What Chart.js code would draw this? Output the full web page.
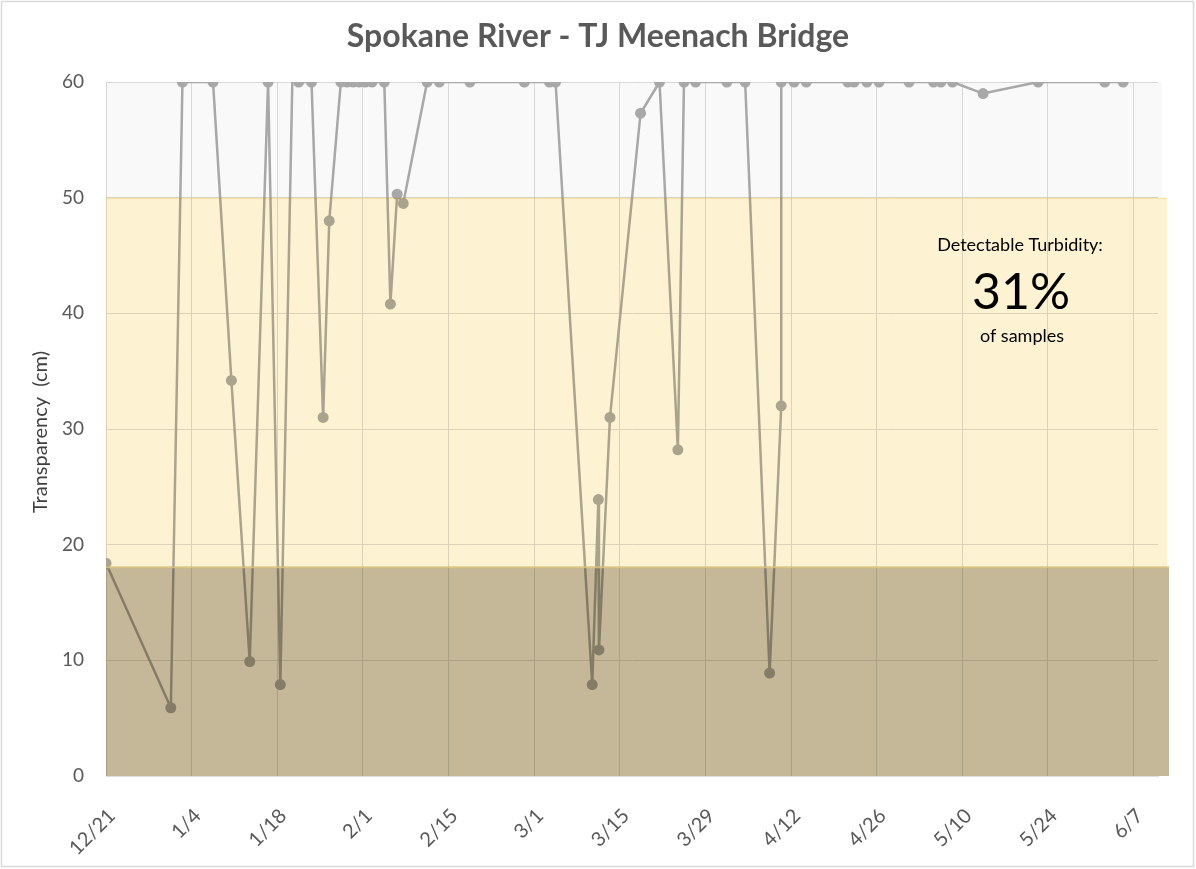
<!DOCTYPE html>
<html>
<head>
<meta charset="utf-8">
<script src="https://cdn.jsdelivr.net/npm/chart.js@4"></script>
<style>
  html, body { margin: 0; padding: 0; background: #fff; }
  canvas { display: block; }
</style>
</head>
<body>
<canvas id="turbChart" width="1196" height="869"></canvas>
<script>
// tick labels, one every 14 days starting 12/21
const tickLabels = ['12/21', '1/4', '1/18', '2/1', '2/15', '3/1', '3/15', '3/29', '4/12', '4/26', '5/10', '5/24', '6/7'];

// sample dates as days after 12/21, and transparency tube readings (cm)
const sampleDays = [0, 10.6, 12.5, 17.5, 20.5, 23.5, 26.5, 28.5, 30.5, 31.5, 33.6,
    35.5, 36.5, 38.4, 39.4, 40.4, 41.4, 42.4, 43.5, 45.5, 46.5, 47.6, 48.6,
    52.5, 54.5, 59.5, 68.4, 72.5, 73.5, 79.5, 80.5, 80.6, 82.4, 87.4, 90.5,
    93.5, 94.5, 96.4, 101.5, 104.5, 108.5, 110.4, 110.4, 112.5, 114.5, 121.3,
    122.3, 124.4, 126.4, 131.3, 135.3, 136.5, 138.4, 143.4, 152.4, 163.3, 166.3];
const transparency = [18.4, 5.9, 60, 60, 34.2, 9.9, 60, 7.9, 61, 60, 60,
    31.0, 48.0, 60, 60, 60, 60, 60, 60, 60, 40.8, 50.3, 49.5,
    60, 60, 60, 60, 60, 60, 7.9, 23.9, 10.9, 31.0, 57.3, 60,
    28.2, 60, 60, 60, 60, 8.9, 32.0, 60, 60, 60, 60,
    60, 60, 60, 60, 60, 60, 60, 59.0, 60, 60, 60];

// background zones (cm)
const turbidZoneTop = 18;
const detectableZoneTop = 50;
const clearZoneTop = 60;

const annotationLines = ['Detectable Turbidity:', '31%', 'of samples'];

const FONT = 'Lato, "Open Sans", sans-serif';
const GREY_TEXT = '#595959';

const points = sampleDays.map((d, i) => ({ x: d, y: transparency[i] }));

// zones are multiplied over grid and line, so the line takes the zone tint
const bandsPlugin = {
    id: 'bands',
    beforeDraw(chart) {
        const c = chart.ctx;
        c.save();
        c.fillStyle = '#fff';
        c.fillRect(0, 0, chart.width, chart.height);
        c.restore();
    },
    afterDatasetsDraw(chart) {
        const { ctx, chartArea: a, scales: { y } } = chart;
        const yClear = y.getPixelForValue(clearZoneTop);
        const yDet = y.getPixelForValue(detectableZoneTop);
        const yTurb = y.getPixelForValue(turbidZoneTop);
        const y0 = y.getPixelForValue(0);
        const w = a.right - a.left;
        ctx.save();
        ctx.globalCompositeOperation = 'multiply';
        ctx.fillStyle = '#f9f9f9';
        ctx.fillRect(a.left, yClear, w + 4, yDet - yClear);
        ctx.fillStyle = '#fdf2d2';
        ctx.fillRect(a.left, yDet, w + 9, yTurb - yDet);
        ctx.fillStyle = '#c4b898';
        ctx.fillRect(a.left, yTurb, w + 11, y0 - yTurb);
        ctx.fillStyle = '#faf0d4';
        ctx.fillRect(a.left, yDet, w + 9, 1.5);
        ctx.globalCompositeOperation = 'source-over';
        ctx.fillStyle = 'rgba(214,190,122,0.85)';
        ctx.fillRect(a.left, yTurb - 1.5, w + 11, 2);
        ctx.restore();
    },
    afterDraw(chart) {
        const { ctx } = chart;
        ctx.save();
        // outer frame
        ctx.strokeStyle = '#d9d9d9';
        ctx.lineWidth = 1.5;
        ctx.strokeRect(1.5, 1.5, 1192, 865);
        // title
        ctx.fillStyle = GREY_TEXT;
        ctx.textAlign = 'center';
        ctx.textBaseline = 'middle';
        ctx.font = 'bold 32px ' + FONT;
        ctx.fillText('Spokane River - TJ Meenach Bridge', 598, 37);
        // y title
        ctx.save();
        ctx.translate(41, 432);
        ctx.rotate(-Math.PI / 2);
        ctx.fillStyle = '#404040';
        ctx.font = '20px ' + FONT;
        ctx.fillText('Transparency  (cm)', 0, 0);
        ctx.restore();
        // annotation
        ctx.fillStyle = '#000';
        ctx.font = '18px ' + FONT;
        ctx.fillText(annotationLines[0], 1020, 245);
        ctx.font = '50px ' + FONT;
        ctx.fillText(annotationLines[1], 1021, 293);
        ctx.font = '18px ' + FONT;
        ctx.fillText(annotationLines[2], 1022, 336);
        ctx.restore();
    }
};

const ctx = document.getElementById('turbChart').getContext('2d');
const chart = new Chart(ctx, {
    type: 'line',
    data: {
        datasets: [{
            label: 'Transparency',
            data: points,
            borderColor: '#acacac',
            backgroundColor: '#acacac',
            borderWidth: 2.5,
            pointRadius: 5.5,
            pointHoverRadius: 5.5,
            pointBackgroundColor: '#acacac',
            pointBorderColor: '#acacac',
            pointBorderWidth: 0,
            tension: 0
        }]
    },
    options: {
        responsive: false,
        animation: false,
        events: [],
        layout: { padding: { top: 82, right: 38, bottom: 0, left: 0 } },
        plugins: { legend: { display: false }, tooltip: { enabled: false }, title: { display: false } },
        scales: {
            x: {
                type: 'linear',
                min: 0,
                max: 172,
                grid: { color: '#dedede', drawTicks: false },
                border: { color: '#dedede' },
                ticks: {
                    stepSize: 14,
                    includeBounds: false,
                    autoSkip: false,
                    minRotation: 45,
                    maxRotation: 45,
                    padding: 28,
                    labelOffset: 6,
                    color: GREY_TEXT,
                    font: { family: FONT, size: 20 },
                    callback: (v) => tickLabels[Math.round(v / 14)] || ''
                },
                afterFit: (s) => { s.height = 93; }
            },
            y: {
                min: 0,
                max: 60,
                grid: { color: '#dedede', drawTicks: false },
                border: { color: '#dedede' },
                ticks: {
                    stepSize: 10,
                    padding: 22,
                    color: GREY_TEXT,
                    font: { family: FONT, size: 19 }
                },
                afterFit: (s) => { s.width = 106; }
            }
        }
    },
    plugins: [bandsPlugin]
});
</script>
</body>
</html>
